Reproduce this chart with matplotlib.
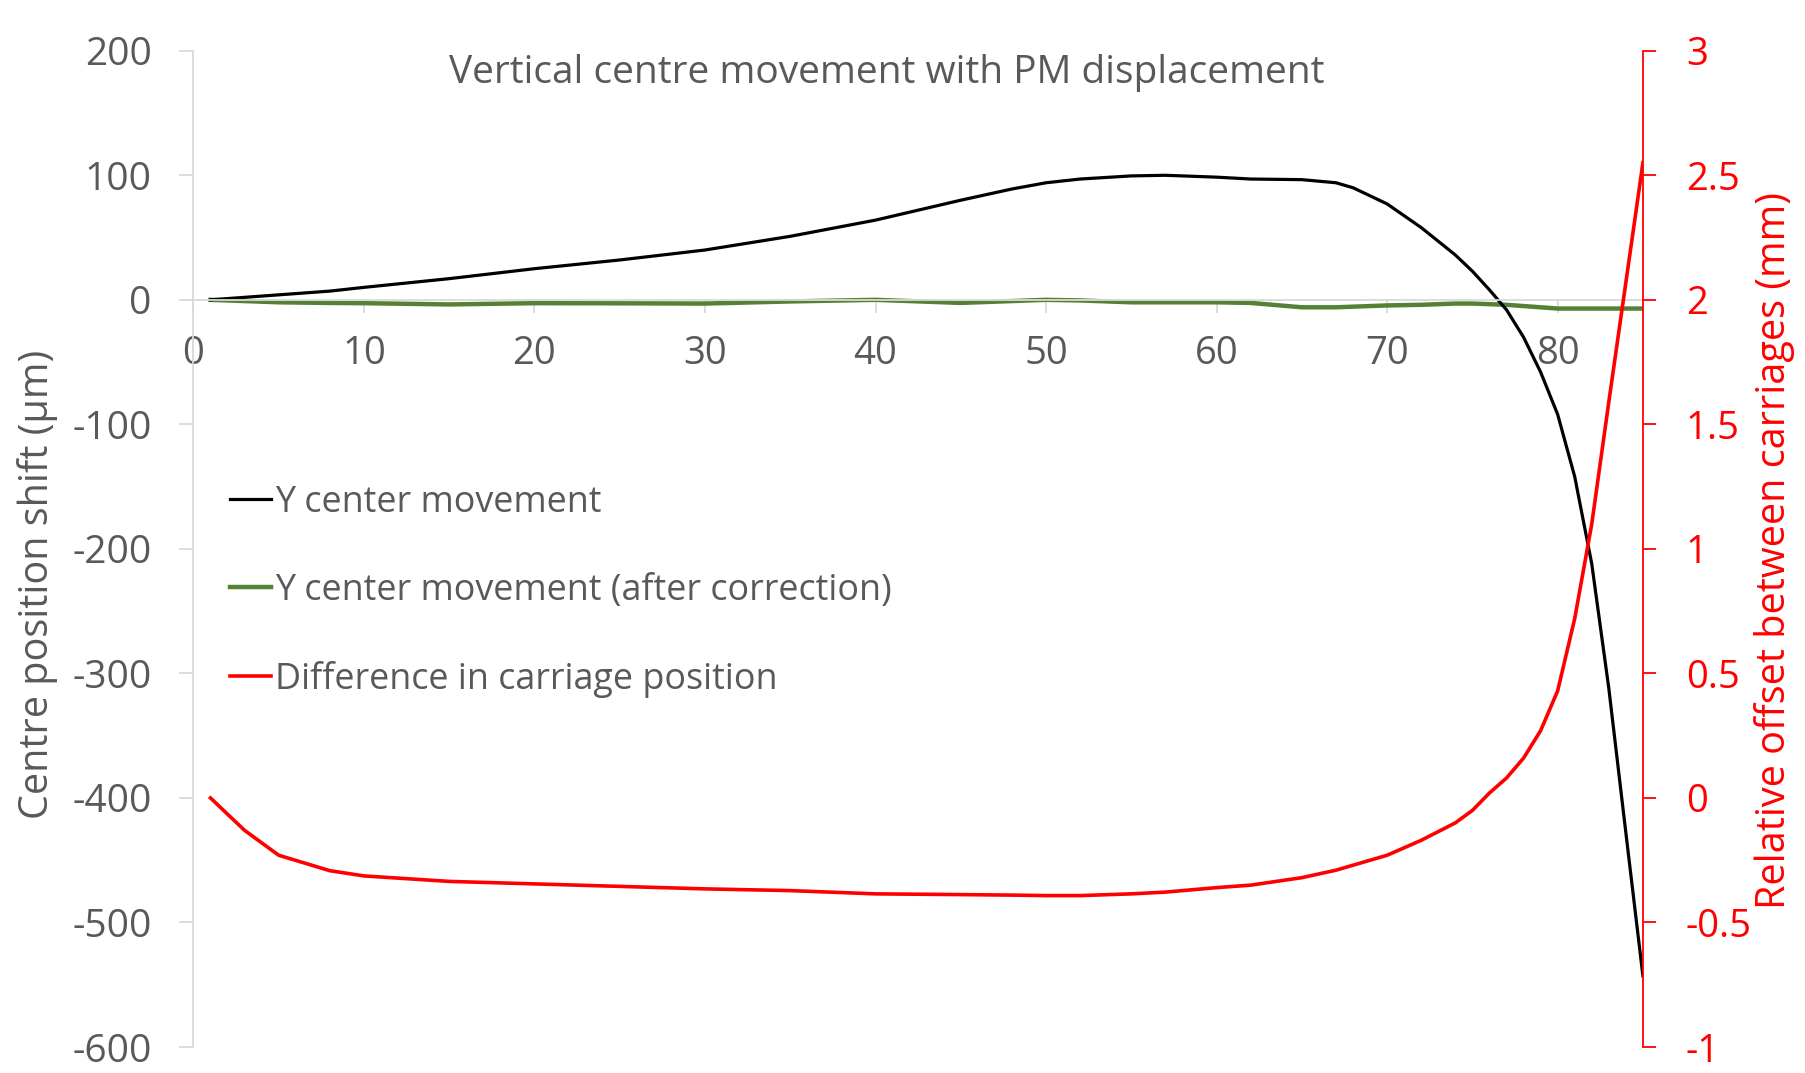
import matplotlib
matplotlib.use('Agg')
import matplotlib.pyplot as plt
from matplotlib.lines import Line2D
from matplotlib.ticker import FuncFormatter

plt.rcParams['font.family'] = ['Open Sans', 'DejaVu Sans']
plt.rcParams['axes.unicode_minus'] = False

GREY = '#595959'
AXIS = '#D9D9D9'
GREEN = '#548235'

pos = [1, 3, 5, 8, 10, 15, 20, 25, 30, 35, 40, 45, 48, 50, 52, 55, 57, 60, 62, 65, 67,
       68, 70, 72, 74, 75, 76, 77, 78, 79, 80, 81, 82, 83, 84, 85]
y_center = [0, 2, 4, 7, 10, 17, 25, 32, 40, 51, 64, 80, 89, 94, 97, 99.5, 100, 98.5, 97, 96.5, 94,
            90, 77, 58, 36, 23, 8, -8, -30, -58, -92, -142, -212, -312, -428, -543]
y_corrected = [0, -1, -2, -2.5, -2.7, -3.7, -2.7, -2.8, -3, -1.3, 0, -2.5, -1, 0, -0.5, -2, -2, -2, -2.5, -6, -6,
               -5.5, -4.5, -4, -3, -3, -3.5, -4, -5, -6, -7, -7, -7, -7, -7, -7]
offset_mm = [0, -0.13, -0.23, -0.292, -0.313, -0.335, -0.345, -0.355, -0.365, -0.372, -0.385,
             -0.388, -0.39, -0.392, -0.392, -0.385, -0.378, -0.36, -0.35, -0.32, -0.29,
             -0.27, -0.23, -0.17, -0.1, -0.05, 0.02, 0.08, 0.16, 0.27, 0.43, 0.72, 1.1, 1.59, 2.07, 2.55]

labels = ['Y center movement', 'Y center movement (after correction)',
          'Difference in carriage position']

fig = plt.figure(figsize=(18.06, 10.73), dpi=100)
ax = fig.add_axes([0.1071, 0.0242, 0.8026, 0.9285])

ax.plot(pos, y_corrected, color=GREEN, lw=3.2, solid_joinstyle='round')
ax.plot(pos, y_center, color='black', lw=2.3, solid_joinstyle='round')

ax.set_xlim(0, 85)
ax.set_ylim(-600, 200)
ax.set_xticks(range(0, 81, 10))
ax.set_yticks(range(-600, 201, 100))
ax.spines['top'].set_visible(False)
ax.spines['right'].set_visible(False)
ax.spines['bottom'].set_position(('data', 0))
ax.spines['bottom'].set_color(AXIS)
ax.spines['left'].set_color(AXIS)
ax.spines['bottom'].set_linewidth(1.3)
ax.spines['left'].set_linewidth(1.3)
ax.tick_params(axis='x', length=9, width=1.3, color=AXIS, labelsize=27.5,
               labelcolor=GREY, pad=16)
ax.tick_params(axis='y', length=10, width=1.3, color=AXIS, labelsize=28,
               labelcolor=GREY, pad=20)

ax2 = ax.twinx()
ax2.plot(pos, offset_mm, color='red', lw=2.6, solid_joinstyle='round')
ax2.set_ylim(-1, 3)
ax2.set_yticks([-1, -0.5, 0, 0.5, 1, 1.5, 2, 2.5, 3])
ax2.yaxis.set_major_formatter(FuncFormatter(lambda v, p: '%g' % v))
for s in ['top', 'left', 'bottom']:
    ax2.spines[s].set_visible(False)
ax2.spines['right'].set_color('red')
ax2.spines['right'].set_linewidth(1.3)
ax2.tick_params(axis='y', length=9, width=1.3, color='red', labelsize=27.5,
                labelcolor='red', pad=22)

fig.text(0.4911, 0.932, 'Vertical centre movement with PM displacement',
         ha='center', va='center', fontsize=28, color=GREY)
fig.text(0.021, 0.4557, 'Centre position shift (µm)', rotation=90,
         ha='center', va='center', fontsize=28.5, color=GREY)
fig.text(0.9823, 0.4874, 'Relative offset between carriages (mm)', rotation=90,
         ha='center', va='center', fontsize=28.5, color='red')

handles = [Line2D([], [], color='black', lw=2.3),
           Line2D([], [], color=GREEN, lw=3.2),
           Line2D([], [], color='red', lw=2.6)]
leg = ax2.legend(handles, labels, loc='center left', bbox_to_anchor=(0.1274, 0.449),
                 bbox_transform=fig.transFigure, frameon=False, fontsize=25.8,
                 borderpad=0, borderaxespad=0, handlelength=1.15, handletextpad=0.1,
                 labelspacing=1.45, labelcolor=GREY)

fig.savefig('out.png', dpi=100)
